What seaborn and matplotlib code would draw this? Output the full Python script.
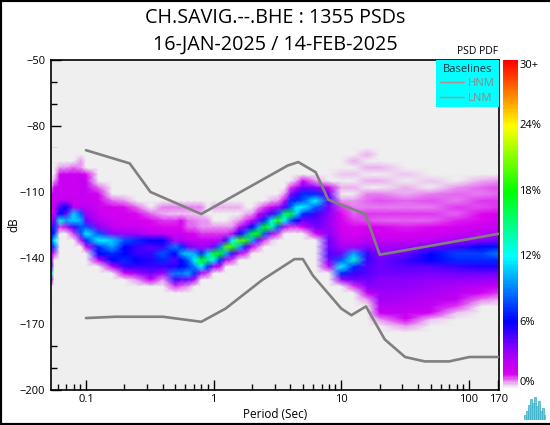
import numpy as np
import pandas as pd
import seaborn as sns
import matplotlib
matplotlib.use('Agg')
import matplotlib.pyplot as plt
from matplotlib.colors import LinearSegmentedColormap
from matplotlib.lines import Line2D
from matplotlib.ticker import FixedLocator, FixedFormatter, NullFormatter

title_lines = ['CH.SAVIG.--.BHE : 1355 PSDs', '16-JAN-2025 / 14-FEB-2025']

# baselines
hnm_period = [0.1, 0.22, 0.32, 0.8, 3.8, 4.6, 6.3, 7.9, 15.4, 20, 170]
hnm_db = [-91, -97, -110, -120, -98, -96.4, -101, -113.5, -120, -138.5, -129]
lnm_period = [0.1, 0.17, 0.4, 0.8, 1.24, 2.4, 4.3, 5.0, 6.0, 10, 12, 15.6, 21.9, 31.6, 45, 70, 101, 170]
lnm_db = [-167.3, -166.7, -166.7, -169, -163, -150, -140.5, -140.5, -148, -163, -166, -162, -177, -185, -187, -187, -185, -185]

# probability (%) read per period, 3 dB steps going down from pdf_top[i]
pdf_period = [0.0535, 0.0565, 0.0625, 0.07, 0.08, 0.0915, 0.1, 0.125, 0.16, 0.2, 0.25, 0.32,
              0.4, 0.5, 0.56, 0.63, 0.71, 0.8, 0.9, 1, 1.12, 1.25, 1.4, 1.6, 1.8, 2, 2.25, 2.5, 2.85, 3.2,
              3.6, 4, 4.5, 5, 6.3, 8, 10, 12.5, 16, 20, 32, 50, 80, 125, 170]
pdf_top = [-108, -105, -99, -99, -99, -96, -102, -108, -114, -114, -117, -120,
           -117, -117, -117, -117, -117, -117, -123, -117, -117, -117, -117, -117, -120, -120, -117, -117, -114, -114,
           -111, -108, -105, -105, -105, -108, -102, -96, -93, -99,
           -102, -105, -108, -105, -105]
pdf_columns = [
    [.5, 1.5, 1.5, 1.5, 1.5, 2.5, 4, 6, 8, 5, 3, 3, 5, 14, 3],
    [.5, 1.8, 1.8, 1.8, 1.8, 2.2, 4, 7, 7, 12, 8, 1],
    [.5, 1.6, 1.8, 1.8, 1.8, 2.5, 5, 6, 13, 1],
    [.5, 1.8, 1.8, 1.8, 1.8, 2.5, 6, 4, 10, 2],
    [.8, 1.8, 1.8, 1.8, 1.8, 1.8, 2.5, 11, 11, 5, 1],
    [.5, .5, 1.8, 2, 1.8, 2, 1.8, 2.5, 8, 10, 8, 8, 2],
    [1.2, 1.8, 2, 1.8, 2, 2.5, 3, 4, 8, 12, 7, 1.5],
    [.8, 1.5, 1.8, 1.6, 2, 2.5, 3.5, 8, 12, 7, 6, 2],
    [.8, 1.6, 1.3, 1.8, 2.2, 3.5, 11, 10, 7, 6, 2],
    [.5, 1.2, 1.6, 1.3, 1.8, 3, 8, 6, 6, 7, 5, 1.5],
    [.8, 1.2, 1.5, 1.8, 3, 7, 5, 5, 6, 5, 3, .5],
    [.8, 1.2, 1.5, 2.2, 6, 4.5, 5, 5.5, 5, 4, 2],
    [.6, .4, 1, 1.2, 2, 6, 5, 8, 7, 5, 3, .5],
    [.6, .3, 1, 1.2, 1.6, 2.5, 9, 6, 4.5, 5.5, 9, 5, 1],
    [.6, .3, 1.2, 1.2, 1.8, 2.8, 7, 10, 6, 6, 9, 4, .8],
    [.6, .3, .8, .8, 1.3, 2.2, 4, 11, 8, 7, 10, 4, .5],
    [.6, .3, .7, .8, 1.2, 2.2, 3.5, 10, 12, 9, 7, 2],
    [.6, .3, .5, .5, 1, 2, 3, 7, 18, 12, 2.5],
    [.5, .5, 1, 2, 3.5, 11, 15, 7, 1],
    [.4, 0, 0, .5, 1, 2, 4, 17, 12, 3],
    [.4, 0, 0, .5, 1, 2.5, 9, 18, 7, 1.5],
    [.4, 0, 0, .5, 1, 5, 20, 10, 2],
    [.4, 0, .3, .5, 2, 12, 19, 5, 1],
    [.4, 0, .5, 2, 6, 20, 10, 2],
    [.4, 1, 4, 9, 19, 5, 1],
    [.5, 2, 6, 17, 10, 1.5],
    [.5, 2, 4, 10, 18, 4, .7],
    [1, 3.5, 7, 18, 8, 1],
    [.4, 2, 5, 13, 14, 3, .3],
    [.5, 3, 8, 19, 8, 1],
    [.5, 1.5, 5, 16, 12, 2],
    [1, 3.5, 7, 8, 17, 8, 1],
    [.5, 2.5, 5, 7, 12, 11, 6, 1],
    [1.5, 4, 7, 8, 12, 7, 4, 1.5],
    [.5, 3.5, 7, 12, 8, 5, 4.5, 4, 1.5],
    [1.6, 4, 4.5, 4, 3.5, 3.2, 3.2, 3.5, 4, 4, 4.5, 4, 2],
    [.3, 0, .4, 0, .5, 1, 1.2, 1.5, 1.6, 1.8, 2.2, 3, 4, 8, 12, 7, 3],
    [.4, 0, .3, 0, .4, 0, .5, .6, .8, 1, 1.2, 1.4, 1.8, 3, 10, 13, 7, 5, 4, 1],
    [.4, 0, .4, 0, .4, 0, .6, .8, .6, 1, .9, 1.3, 1.8, 2.5, 3.5, 5, 5, 4.5, 4.5, 4, 3.5, 2, .5],
    [.4, 0, .4, 0, .7, .9, .7, 1, .8, 1.4, 1.6, 2.2, 3, 3.5, 4, 4, 4, 3.5, 3.5, 3, 3, 2.5, 2, .5],
    [.3, 0, .4, .4, .8, .6, 1, .8, 1.1, 1.5, 2, 3, 4, 5, 4.5, 4, 3.5, 3.3, 3, 2.8, 2.5, 2.2, 1.5, .5],
    [.3, 0, .6, .9, .7, 1, .8, 1.2, 1.6, 2.2, 4, 6, 6, 4.5, 3.8, 3.3, 3, 2.7, 2.5, 2.2, 1.5, .3],
    [.5, .8, .7, 1, .8, 1.1, 1.4, 2, 3, 5, 7.5, 7, 5, 4, 3.3, 2.8, 2.5, 2, 1, .3],
    [.4, .8, .7, 1, .9, 1.2, 1.2, 1.8, 2.5, 3.5, 6, 7.5, 7, 5.5, 4, 3.2, 2.5, 1.5, .7],
    [.5, .9, .8, 1, 1, 1.3, 1.5, 2, 2.8, 4, 6.5, 9, 7, 5.5, 4, 3, 2.2, 1, .4],
]

# colour bar
cbar_ticks = [0, 6, 12, 18, 24, 30]
cbar_labels = ['0%', '6%', '12%', '18%', '24%', '30+']
logo_heights = [5, 9, 14, 20, 16, 22, 13, 18, 9, 12, 5]

BG = '#EFEFEF'
psd_cmap = LinearSegmentedColormap.from_list('psd', [
    (0, BG), (.3 / 30, '#EDB8F2'), (1.2 / 30, '#D800F0'), (2.5 / 30, '#B800F5'), (4 / 30, '#7000FF'),
    (6 / 30, '#0000FF'), (12 / 30, '#00FFFF'), (18 / 30, '#00FF00'), (24 / 30, '#FFFF00'), (1, '#FF0000')])

sns.set_theme(style='ticks')
plt.rcParams['font.family'] = ['Open Sans', 'DejaVu Sans']

db_rows = np.arange(-90, -180, -3)
pdf = np.zeros((len(db_rows), len(pdf_period)))
for i, (top, col) in enumerate(zip(pdf_top, pdf_columns)):
    start = int((-90 - top) / 3)
    pdf[start:start + len(col), i] = col

fig = plt.figure(figsize=(5.5, 4.25), dpi=100)
W, H = 550, 425
ax = fig.add_axes([51 / W, 1 - 390 / H, 448 / W, 330 / H])
ax.set_facecolor(BG)
ax.pcolormesh(pdf_period, db_rows, pdf, cmap=psd_cmap, vmin=0, vmax=30, shading='gouraud', zorder=1)

base = pd.concat([
    pd.DataFrame({'period': hnm_period, 'db': hnm_db, 'model': 'HNM'}),
    pd.DataFrame({'period': lnm_period, 'db': lnm_db, 'model': 'LNM'}),
])
sns.lineplot(data=base, x='period', y='db', hue='model', palette={'HNM': '#808080', 'LNM': '#808080'},
             linewidth=1.9, sort=False, estimator=None, ax=ax, zorder=3, legend=False)

ax.set_xscale('log')
ax.set_xlim(0.0532, 172)
ax.set_ylim(-200, -50)
ax.xaxis.set_major_locator(FixedLocator([0.1, 1, 10, 100, 170]))
ax.xaxis.set_major_formatter(FixedFormatter(['0.1', '1', '10', '100', '170']))
ax.xaxis.set_minor_locator(FixedLocator([.06, .07, .08, .09, .2, .3, .4, .5, .6, .7, .8, .9, 2, 3, 4, 5, 6, 7, 8, 9,
                                         20, 30, 40, 50, 60, 70, 80, 90]))
ax.xaxis.set_minor_formatter(NullFormatter())
ax.set_yticks(np.arange(-200, -49, 30))
ax.set_yticks(np.arange(-200, -49, 10), minor=True)
ax.tick_params(axis='both', which='major', direction='in', length=7, width=1, labelsize=8, color='black',
               labelcolor='black', pad=4)
ax.tick_params(axis='x', which='major', pad=3)
ax.tick_params(axis='both', which='minor', direction='in', length=4, width=1, color='black')
ax.set_xlabel('Period (Sec)', fontsize=8.5, color='black', labelpad=2)
ax.set_ylabel('dB', fontsize=8.5, color='black', labelpad=0)
for s in ax.spines.values():
    s.set_visible(True)
    s.set_linewidth(1.2)
    s.set_color('black')

handles = [Line2D([], [], color='#B09090', lw=1, label=m) for m in ['HNM', 'LNM']]
leg = ax.legend(handles=handles, title='Baselines', loc='upper right', borderaxespad=0, fancybox=False,
                facecolor='#00FFFF', edgecolor='none', framealpha=1, fontsize=8, title_fontsize=8,
                labelcolor='#8A8A8A', handlelength=2.2, handletextpad=.35, labelspacing=.3, borderpad=.35)
leg.get_title().set_color('#20303A')
leg.set_zorder(5)

fig.text(275.5 / W, 1 - 18 / H, title_lines[0], ha='center', va='center', fontsize=14.2, color='black')
fig.text(275.5 / W, 1 - 45 / H, title_lines[1], ha='center', va='center', fontsize=14.2, color='black')
fig.text(478 / W, 1 - 52 / H, 'PSD PDF', ha='center', va='center', fontsize=7.5, color='black')

cax = fig.add_axes([503 / W, 1 - 388 / H, 15 / W, 328 / H])
cax.imshow(np.linspace(30, 0, 328).reshape(-1, 1), cmap=psd_cmap, vmin=0, vmax=30, aspect='auto',
           extent=[0, 1, 0, 30])
cax.yaxis.tick_right()
cax.set_xticks([])
cax.set_yticks(cbar_ticks)
cax.set_yticklabels(cbar_labels)
cax.tick_params(axis='y', length=0, labelsize=8, pad=1, labelcolor='black')
for lab, v in zip(cax.get_yticklabels(), cbar_ticks):
    lab.set_va('center' if 0 < v < 30 else ('top' if v == 30 else 'bottom'))
sns.despine(ax=cax, left=True, right=True, top=True, bottom=True)

lax = fig.add_axes([524 / W, 1 - 420 / H, 22 / W, 24 / H])
sns.barplot(x=list(range(len(logo_heights))), y=logo_heights, color='#6FCFE4', ax=lax, width=.7,
            edgecolor='#35AFCB', linewidth=.5)
lax.set_axis_off()

# black frame round the picture
for xs, ys in [([0, 0], [0, 1]), ([0, 1], [1, 1]), ([0, 1], [0, 0])]:
    fig.add_artist(Line2D(xs, ys, color='black', lw=3, transform=fig.transFigure))

fig.savefig('out.png', dpi=100, facecolor='white')
